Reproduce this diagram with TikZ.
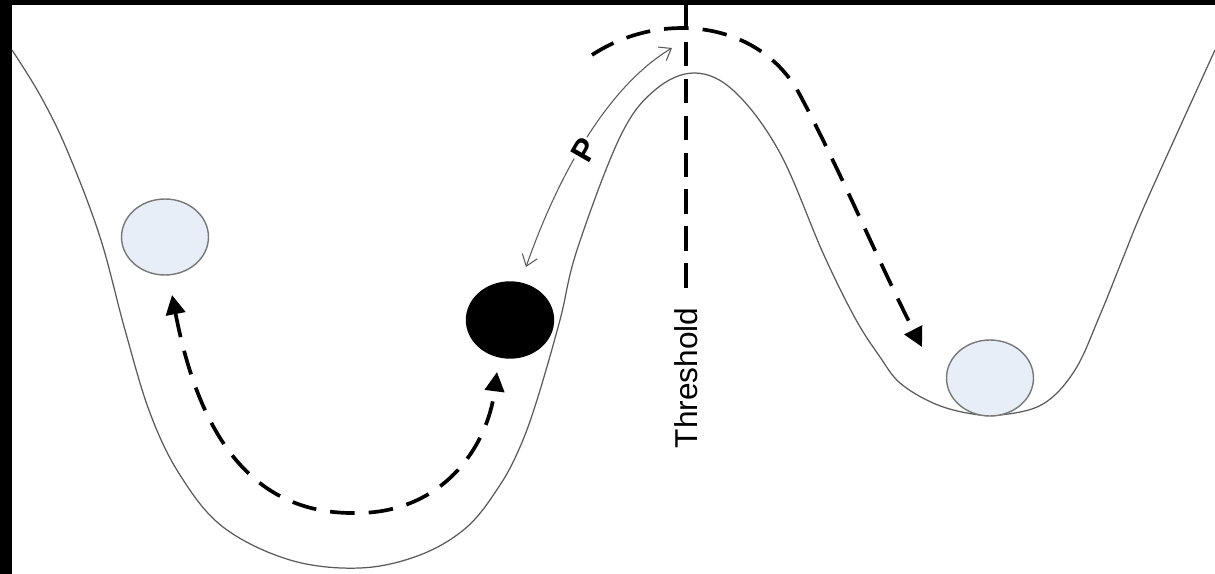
\documentclass[tikz,border=0pt]{standalone}
\usepackage{fontspec}
\setsansfont{Liberation Sans}
\usetikzlibrary{shapes.geometric, arrows.meta}
\definecolor{ballfill}{RGB}{232,238,248}
\definecolor{ballline}{RGB}{120,120,120}
\definecolor{wellline}{RGB}{90,90,90}

\begin{document}
\begin{tikzpicture}[x=0.02cm, y=-0.02cm,
    >={Triangle[length=11pt, width=11pt]},
    ball/.style={ellipse, draw=ballline, fill=ballfill, line width=0.8pt,
                 minimum width=1.74cm, minimum height=1.52cm, inner sep=0pt},
    move/.style={line width=2.1pt, dash pattern=on 14pt off 8pt},
    thresh/.style={line width=2.1pt, dash pattern=on 14pt off 7pt},
    reach/.style={wellline, line width=0.6pt,
                  {Straight Barb[length=6pt, width=9pt]}-{Straight Barb[length=6pt, width=9pt]}}]
    \path[use as bounding box] (0,0) rectangle (1215,574);
    \fill[black] (0,0) rectangle (1215,574);
    \fill[white] (12,5) rectangle (1215,574);

    % energy landscape
    \draw[wellline, line width=0.7pt] plot[smooth, tension=0.6] coordinates {
        (12,50) (40,95) (67,150) (100,237) (125,330) (150,413) (180,475)
        (223,527) (290,560) (360,568) (420,555) (467,527) (500,485)
        (520,447) (537,400) (560,320) (577,250) (620,137) (655,90)
        (695,73) (735,92) (780,153) (823,253) (855,318) (880,357)
        (900,383) (933,403) (967,413) (1000,415) (1043,404) (1075,370)
        (1100,315) (1123,258) (1147,200) (1215,50)};

    % balls
    \node[ball] (left) at (165,237) {};
    \node[ball, fill=black, draw=black] (now) at (510,320) {};
    \node[ball] (right) at (990,378) {};

    % threshold
    \coordinate (thrTop) at (686,5);
    \node[rotate=90, font=\sffamily\fontsize{18}{20}\selectfont, inner sep=6pt]
        (thr) at (686,378) {Threshold};
    \draw[thresh] (thrTop) -- (thr.east);

    % moves
    \coordinate (uL) at (172,295);
    \coordinate (uBot) at (357,513);
    \coordinate (uR) at (497,372);
    \draw[move, <->] (uL) .. controls (200,440) and (255,515) .. (uBot)
        .. controls (440,513) and (487,450) .. (uR);

    \coordinate (jump) at (592,55);
    \coordinate (jumpTop) at (800,95);
    \coordinate (drop) at (922,347);
    \draw[move, ->] (jump) .. controls (660,10) and (760,20) .. (jumpTop)
        .. controls (840,170) and (880,265) .. (drop);

    % perturbation size
    \coordinate (pLow) at (526,267);
    \coordinate (pHigh) at (672,48);
    \draw[reach] (pLow) .. controls (560,170) and (610,85) .. (pHigh);
    \node[fill=white, inner sep=1pt, rotate=60, font=\sffamily\bfseries\fontsize{18}{20}\selectfont]
        (p) at (584,150) {P};
\end{tikzpicture}
\end{document}
